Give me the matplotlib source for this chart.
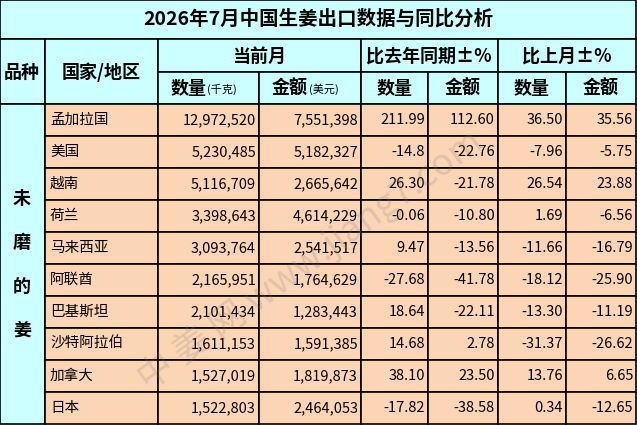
import matplotlib
matplotlib.use("Agg")
import matplotlib.pyplot as plt
from matplotlib.patches import Rectangle

plt.rcParams['font.family'] = ['Noto Sans CJK SC', 'DejaVu Sans']

title = "2026年7月中国生姜出口数据与同比分析"
variety = "未\n\n磨\n\n的\n\n姜"
countries = ["孟加拉国", "美国", "越南", "荷兰", "马来西亚", "阿联酋", "巴基斯坦", "沙特阿拉伯", "加拿大", "日本"]
qty = ["12,972,520", "5,230,485", "5,116,709", "3,398,643", "3,093,764", "2,165,951", "2,101,434", "1,611,153", "1,527,019", "1,522,803"]
amt = ["7,551,398", "5,182,327", "2,665,642", "4,614,229", "2,541,517", "1,764,629", "1,283,443", "1,591,385", "1,819,873", "2,464,053"]
yoy_q = ["211.99", "-14.8", "26.30", "-0.06", "9.47", "-27.68", "18.64", "14.68", "38.10", "-17.82"]
yoy_a = ["112.60", "-22.76", "-21.78", "-10.80", "-13.56", "-41.78", "-22.11", "2.78", "23.50", "-38.58"]
mom_q = ["36.50", "-7.96", "26.54", "1.69", "-11.66", "-18.12", "-13.30", "-31.37", "13.76", "0.34"]
mom_a = ["35.56", "-5.75", "23.88", "-6.56", "-16.79", "-25.90", "-11.19", "-26.62", "6.65", "-12.65"]

W, H = 637, 425
fig = plt.figure(figsize=(W/100, H/100), dpi=100)
ax = fig.add_axes([0, 0, 1, 1])
ax.set_xlim(0, W); ax.set_ylim(H, 0); ax.axis('off')

cyan = "#ccffff"; peach = "#fcd5b4"
xs = [0, 45, 158, 259, 361, 428, 498, 566, 636]
y_t, y_h1, y_h2, y_d = 0, 39, 72, 104
rh = (H - 1 - y_d) / len(countries)

def rect(x0, y0, x1, y1, fc):
    ax.add_patch(Rectangle((x0, y0), x1-x0, y1-y0, fc=fc, ec='black', lw=1.2))

def txt(x, y, s, size=11, ha='center', bold=True):
    ax.text(x, y, s, ha=ha, va='center', fontsize=size, fontweight='bold' if bold else 'normal')

rect(0, y_t, 636, y_h1, cyan)
txt(318, 19, title, 14)
rect(0, y_h1, 45, y_d, cyan); txt(22, 72, "品种", 13)
rect(45, y_h1, 158, y_d, cyan); txt(101, 72, "国家/地区", 13)
rect(158, y_h1, 361, y_h2, cyan); txt(259, 56, "当前月", 13)
rect(361, y_h1, 498, y_h2, cyan); txt(429, 56, "比去年同期±%", 13)
rect(498, y_h1, 636, y_h2, cyan); txt(567, 56, "比上月±%", 13)
subs = ["数量", "金额", "数量", "金额", "数量", "金额"]
for i, s in enumerate(subs):
    rect(xs[i+2], y_h2, xs[i+3], y_d, cyan)
    cx = (xs[i+2] + xs[i+3]) / 2
    if i == 0:
        txt(cx - 2, 88, "数量", 13, ha='right'); txt(cx - 1, 89, "(千克)", 8, ha='left', bold=False)
    elif i == 1:
        txt(cx - 2, 88, "金额", 13, ha='right'); txt(cx - 1, 89, "(美元)", 8, ha='left', bold=False)
    else:
        txt(cx, 88, s, 13)

rect(0, y_d, 45, H-1, cyan)
txt(22, (y_d + H) / 2, variety, 13)

cols = [qty, amt, yoy_q, yoy_a, mom_q, mom_a]
for r, c in enumerate(countries):
    y0 = y_d + r * rh; y1 = y0 + rh; cy = (y0 + y1) / 2
    rect(45, y0, 158, y1, peach)
    txt(50, cy, c, 10.5, ha='left', bold=False)
    for j, col in enumerate(cols):
        rect(xs[j+2], y0, xs[j+3], y1, peach)
        txt(xs[j+3] - 3, cy, col[r], 10.5, ha='right', bold=False)

ax.text(310, 260, "中 姜 网 www.jiang7.com", rotation=36, ha='center', va='center',
        fontsize=26, color='gray', alpha=0.22)

fig.savefig("out.png", dpi=100)
